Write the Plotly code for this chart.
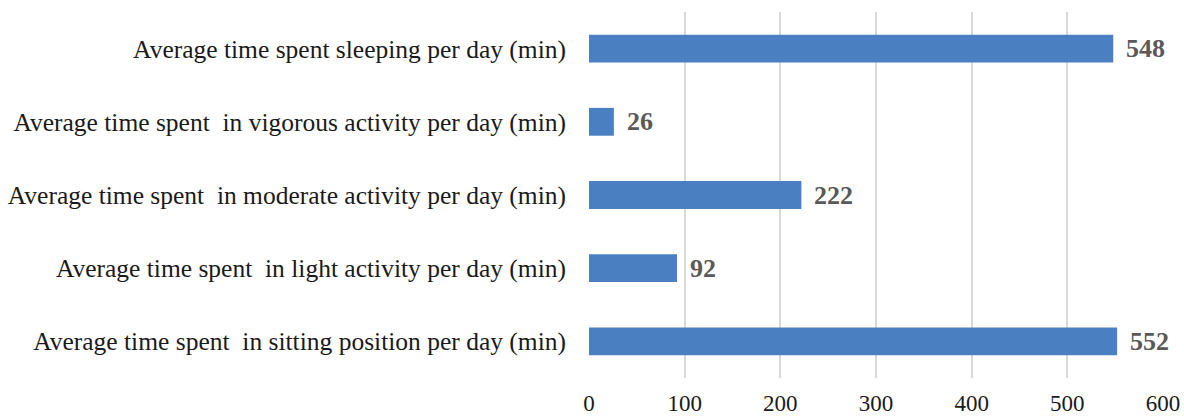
import plotly.graph_objects as go

categories = [
    "Average time spent  in sitting position per day (min)",
    "Average time spent  in light activity per day (min)",
    "Average time spent  in moderate activity per day (min)",
    "Average time spent  in vigorous activity per day (min)",
    "Average time spent sleeping per day (min)",
]
minutes = [552, 92, 222, 26, 548]
x_ticks = [0, 100, 200, 300, 400, 500, 600]

SERIF = "Liberation Serif"

fig = go.Figure(
    go.Bar(
        x=minutes,
        y=categories,
        orientation="h",
        marker=dict(color="#4a80c1", line=dict(width=0)),
        width=0.38,
        hoverinfo="x+y",
    )
)

# value labels placed just beyond the end of each bar
for cat, val in zip(categories, minutes):
    fig.add_annotation(
        x=val,
        y=cat,
        text=str(val),
        showarrow=False,
        xanchor="left",
        yanchor="middle",
        xshift=11,
        font=dict(family=SERIF, size=26, color="#595959", weight="bold"),
    )

fig.update_layout(
    width=1184,
    height=416,
    margin=dict(l=589, r=21, t=12, b=38),
    paper_bgcolor="white",
    plot_bgcolor="white",
    showlegend=False,
    font=dict(family=SERIF, color="#1a1a1a"),
)
fig.update_xaxes(
    range=[0, 600],
    tickvals=x_ticks,
    ticktext=[str(t) for t in x_ticks],
    showgrid=True,
    gridcolor="#d9d9d9",
    gridwidth=1.5,
    zeroline=False,
    showline=False,
    ticks="",
    ticklabelstandoff=9,
    automargin=False,
    tickfont=dict(family=SERIF, size=23, color="#1a1a1a"),
)
fig.update_yaxes(
    showgrid=False,
    zeroline=False,
    showline=False,
    ticks="",
    ticklabelstandoff=22,
    automargin=False,
    tickfont=dict(family=SERIF, size=25.5, color="#1a1a1a"),
)

fig.write_html("out.html")
